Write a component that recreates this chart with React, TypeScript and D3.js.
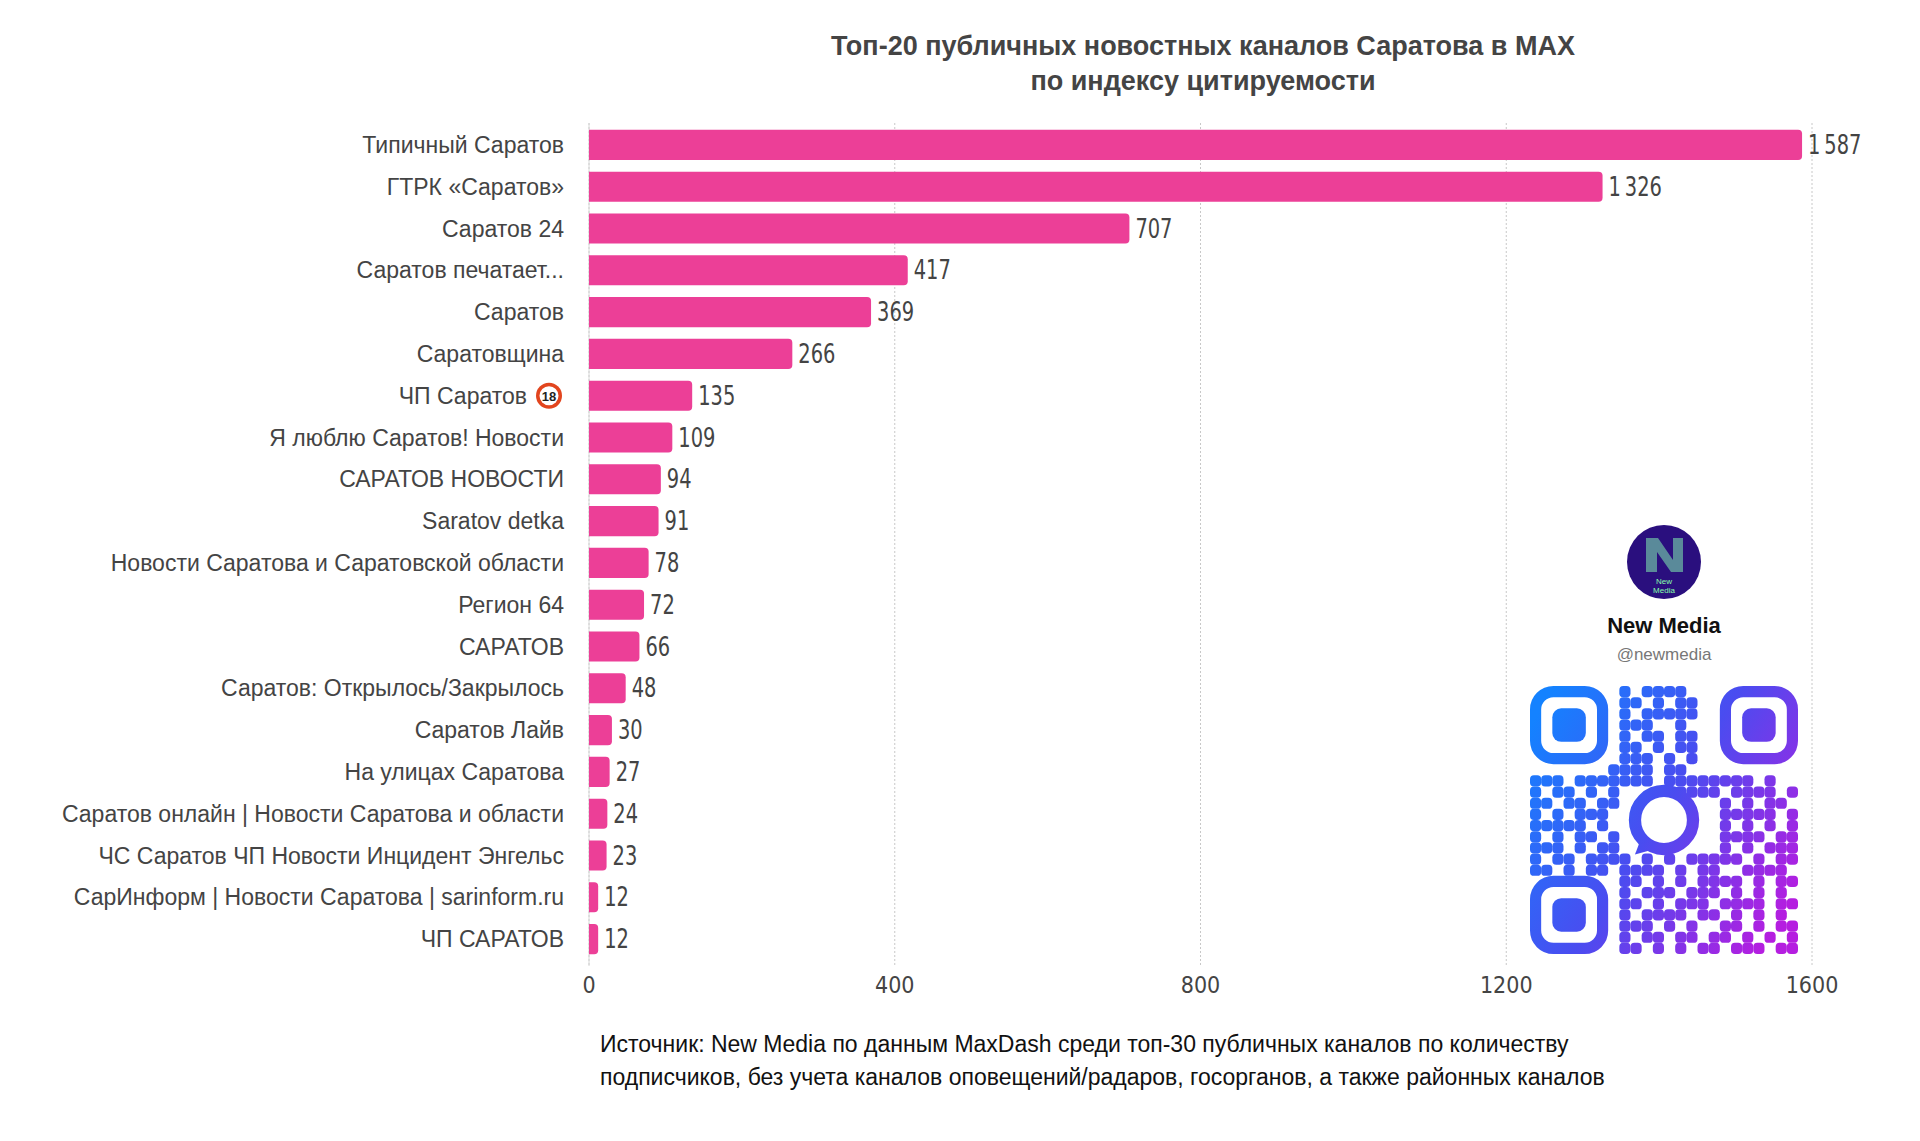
import * as d3 from "d3";

const channels = [
  "Типичный Саратов",
  "ГТРК «Саратов»",
  "Саратов 24",
  "Саратов печатает...",
  "Саратов",
  "Саратовщина",
  "ЧП Саратов",
  "Я люблю Саратов! Новости",
  "САРАТОВ НОВОСТИ",
  "Saratov detka",
  "Новости Саратова и Саратовской области",
  "Регион 64",
  "САРАТОВ",
  "Саратов: Открылось/Закрылось",
  "Саратов Лайв",
  "На улицах Саратова",
  "Саратов онлайн | Новости Саратова и области",
  "ЧС Саратов ЧП Новости Инцидент Энгельс",
  "СарИнформ | Новости Саратова | sarinform.ru",
  "ЧП САРАТОВ",
];
const citations = [1587, 1326, 707, 417, 369, 266, 135, 109, 94, 91, 78, 72, 66, 48, 30, 27, 24, 23, 12, 12];
const xTicks = [0, 400, 800, 1200, 1600];

// rough QR module map (finders and centre drawn separately)
const qrRows = [
  "........1.1111..........",
  "........11.1.11.........",
  "........1.11111.........",
  "........111..1..........",
  "........1.11.11.........",
  "........11.1.11.........",
  "........111.1.1.........",
  ".......1111.11..........",
  "111.1111111.11111111.1..",
  "1.11.1.1.....1111.1111.1",
  "11.11.11.........1.1.11.",
  "1.1.111..........11111.1",
  "11111.1..........1.1.1.1",
  "1.1.11.1.........1111.11",
  "111.1.11.........1.1.111",
  "1.11.1111.1.1.11111.1.11",
  "11.1.11.1111.1.11..1111.",
  "........11.1.1.1111.1.11",
  "........1.111.111.1.1.1.",
  "........11.1.111.1111.11",
  "........1.1111.11.1.1.1.",
  "........111.1.1..11.1.11",
  "........1.11.11.11.1.1.1",
  "........11.1.1.11.111.11",
];

const W = 1920;
const H = 1141;
const x0 = 589;
const x1 = 1812;

export default function App() {
  const x = d3.scaleLinear().domain([0, 1600]).range([x0, x1]);
  const y = d3.scaleBand<string>().domain(channels).range([124, 960]).paddingInner(0.28).paddingOuter(0.14);
  const bw = y.bandwidth();
  const font = "'Helvetica Neue', 'Liberation Sans', Arial, sans-serif";
  const narrow = "'Liberation Sans Narrow', 'DejaVu Sans Condensed', sans-serif";
  const fmt = (v: number) => (v >= 1000 ? d3.format(",")(v).replace(",", "\u2009") : String(v));

  const qx = 1530, qy = 686, qs = 268;
  const n = 24;
  const m = qs / n;

  return (
    <svg width={W} height={H} style={{ position: "absolute", left: 0, top: 0, background: "#fff" }}>
      <defs>
        <linearGradient id="qrg" gradientUnits="userSpaceOnUse" x1={qx} y1={qy + 40} x2={qx + qs} y2={qy + qs - 60}>
          <stop offset="0" stopColor="#1482ff" />
          <stop offset="0.5" stopColor="#4a4cf0" />
          <stop offset="1" stopColor="#b51ee0" />
        </linearGradient>
      </defs>
      <text x={1203} y={55} textAnchor="middle" fontFamily={font} fontWeight={700} fontSize={27} fill="#444">
        Топ-20 публичных новостных каналов Саратова в MAX
      </text>
      <text x={1203} y={90} textAnchor="middle" fontFamily={font} fontWeight={700} fontSize={27} fill="#444">
        по индексу цитируемости
      </text>

      {xTicks.map((t) => (
        <line key={t} x1={x(t)} x2={x(t)} y1={123} y2={966} stroke="#c8c8c8" strokeDasharray="2,2" strokeWidth={1} />
      ))}
      <line x1={x0} x2={x0} y1={123} y2={966} stroke="#d8d8d8" />
      {xTicks.map((t) => (
        <text key={t} x={x(t)} y={993} textAnchor="middle" fontFamily={narrow} fontSize={23} fill="#444">
          {t}
        </text>
      ))}

      {channels.map((c, i) => {
        const yy = y(c)!;
        const v = citations[i];
        const w = x(v) - x0;
        const cy = yy + bw / 2;
        return (
          <g key={c}>
            <path
              d={`M${x0},${yy}h${w - 4}q4,0 4,4v${bw - 8}q0,4 -4,4h${-(w - 4)}z`}
              fill="#ec3f97"
            />
            <text
              transform={`translate(${x(v) + 6},${cy + 9}) scale(0.8,1)`}
              fontFamily={narrow}
              fontSize={27}
              fill="#444"
            >
              {fmt(v)}
            </text>
            {c === "ЧП Саратов" ? (
              <g>
                <text x={527} y={cy + 8} textAnchor="end" fontFamily={font} fontSize={23} fill="#444">{c}</text>
                <circle cx={549} cy={cy} r={13} fill="#e2451e" />
                <circle cx={549} cy={cy} r={9.5} fill="#fff" />
                <text x={549} y={cy + 5} textAnchor="middle" fontFamily={font} fontWeight={700} fontSize={13} fill="#222">18</text>
              </g>
            ) : (
              <text x={564} y={cy + 8} textAnchor="end" fontFamily={font} fontSize={23} fill="#444">{c}</text>
            )}
          </g>
        );
      })}

      <text x={600} y={1052} fontFamily={font} fontSize={23} fill="#111">
        Источник: New Media по данным MaxDash среди топ-30 публичных каналов по количеству
      </text>
      <text x={600} y={1085} fontFamily={font} fontSize={23} fill="#111">
        подписчиков, без учета каналов оповещений/радаров, госорганов, а также районных каналов
      </text>

      {/* logo */}
      <circle cx={1664} cy={562} r={37} fill="#2a0f7e" />
      <path d="M1646,538 L1658,538 L1673,560 L1673,538 L1683,538 L1683,572 L1671,572 L1657,552 L1657,572 L1646,572 Z" fill="#5a8a9a" />
      <text x={1664} y={584} textAnchor="middle" fontFamily={font} fontSize={8} fill="#8fa">
        New
      </text>
      <text x={1664} y={593} textAnchor="middle" fontFamily={font} fontSize={8} fill="#8fa">
        Media
      </text>
      <text x={1664} y={633} textAnchor="middle" fontFamily={font} fontSize={22} fontWeight={600} fill="#111">
        New Media
      </text>
      <text x={1664} y={660} textAnchor="middle" fontFamily={font} fontSize={17} fill="#777">
        @newmedia
      </text>

      {/* QR */}
      <g fill="url(#qrg)">
        {qrRows.flatMap((row, r) =>
          row.split("").map((ch, c) =>
            ch === "1" ? (
              <rect key={`${r}-${c}`} x={qx + c * m} y={qy + r * m} width={m} height={m} rx={m * 0.35} />
            ) : null
          )
        )}
        {[
          [qx, qy],
          [qx + qs - 7 * m, qy],
          [qx, qy + qs - 7 * m],
        ].map(([fx, fy], i) => (
          <g key={i}>
            <rect x={fx + m / 2} y={fy + m / 2} width={6 * m} height={6 * m} rx={m * 1.6} fill="none" stroke="url(#qrg)" strokeWidth={m} />
            <rect x={fx + 2 * m} y={fy + 2 * m} width={3 * m} height={3 * m} rx={m * 0.8} />
          </g>
        ))}
        <circle cx={qx + 12 * m} cy={qy + 12 * m} r={2.6 * m} fill="none" stroke="url(#qrg)" strokeWidth={m * 1.1} />
        <path d={`M${qx + 10 * m},${qy + 13.5 * m} l${-0.6 * m},${1.6 * m} l${1.8 * m},${-0.5 * m}z`} />
      </g>
    </svg>
  );
}
